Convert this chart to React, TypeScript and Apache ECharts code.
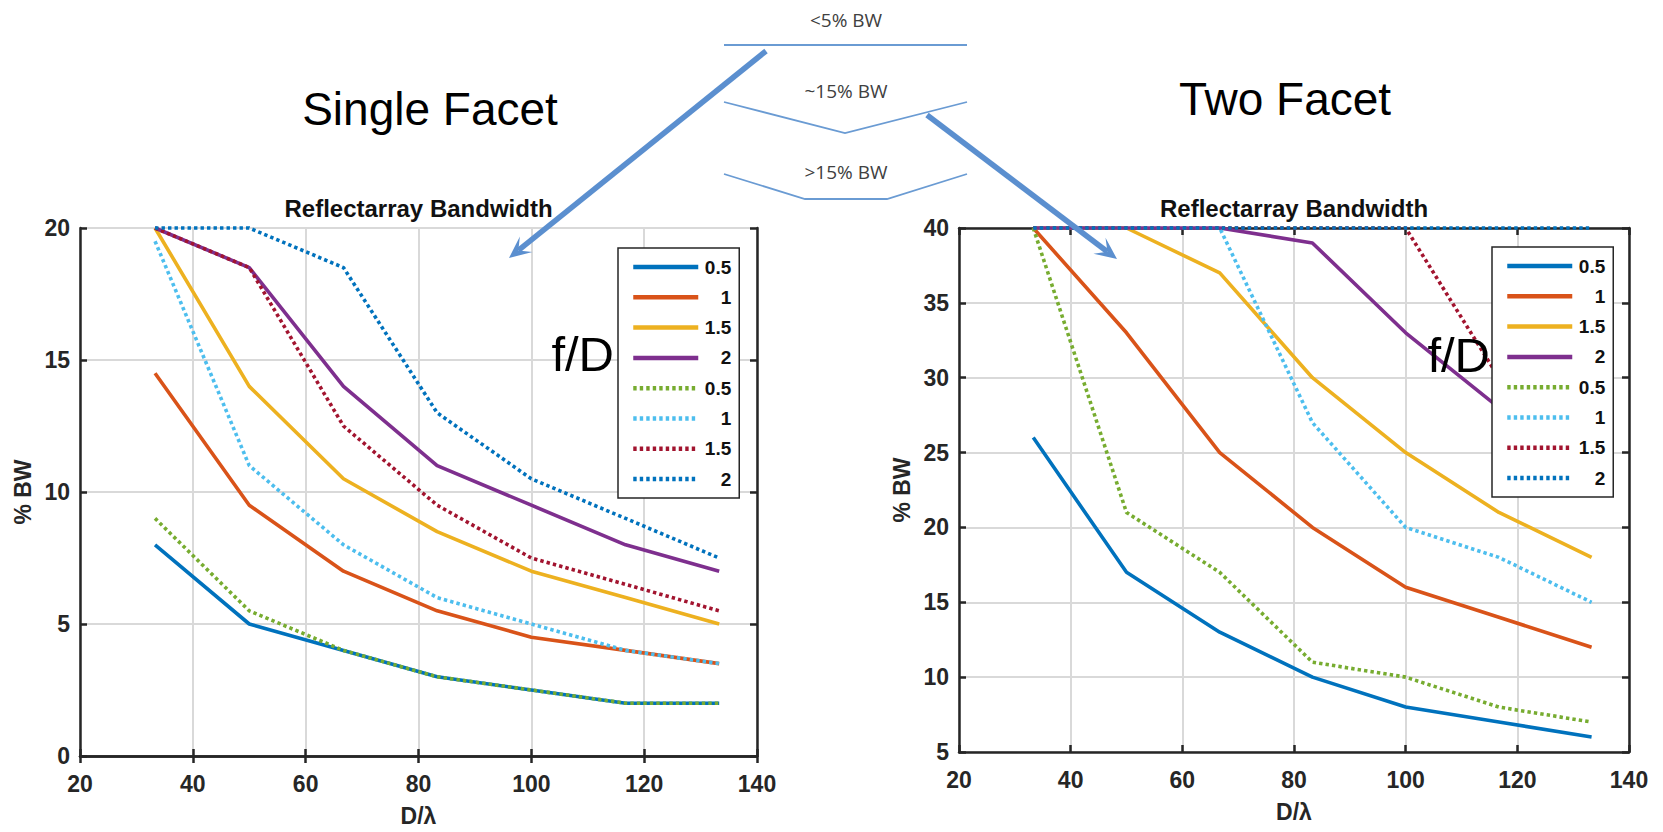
import React, { useEffect, useRef } from "react";
import * as echarts from "echarts";

// ---------- data ----------
const dLambda = [33.3, 50, 66.7, 83.3, 100, 116.7, 133.3];
const fdLabels = ["0.5", "1", "1.5", "2"];

// Single facet (% BW)
const singleSolid05 = [8, 5, 4, 3, 2.5, 2, 2];
const singleSolid1 = [14.5, 9.5, 7, 5.5, 4.5, 4, 3.5];
const singleSolid15 = [20, 14, 10.5, 8.5, 7, 6, 5];
const singleSolid2 = [20, 18.5, 14, 11, 9.5, 8, 7];
const singleDot05 = [9, 5.5, 4, 3, 2.5, 2, 2];
const singleDot1 = [19.5, 11, 8, 6, 5, 4, 3.5];
const singleDot15 = [20, 18.5, 12.5, 9.5, 7.5, 6.5, 5.5];
const singleDot2 = [20, 20, 18.5, 13, 10.5, 9, 7.5];

// Two facet (% BW)
const twoSolid05 = [26, 17, 13, 10, 8, 7, 6];
const twoSolid1 = [40, 33, 25, 20, 16, 14, 12];
const twoSolid15 = [40, 40, 37, 30, 25, 21, 18];
const twoSolid2 = [40, 40, 40, 39, 33, 28, 24];
const twoDot05 = [40, 21, 17, 11, 10, 8, 7];
const twoDot1 = [40, 40, 40, 27, 20, 18, 15];
const twoDot15 = [40, 40, 40, 40, 40, 30, 24];
const twoDot2 = [40, 40, 40, 40, 40, 40, 40];

const xTicks = { min: 20, max: 140, interval: 20 };
const singleY = { min: 0, max: 20, interval: 5 };
const twoY = { min: 5, max: 40, interval: 5 };

const chartTitle = "Reflectarray Bandwidth";
const xName = "D/λ";
const yName = "% BW";
const bwLabels = ["<5% BW", "~15% BW", ">15% BW"];

// ---------- styling ----------
const FONT = '"Liberation Sans", Arial, Helvetica, sans-serif';
const solidColors = ["#0072BD", "#D95319", "#EDB120", "#7E2F8E"];
const dotColors = ["#77AC30", "#4DBEEE", "#A2142F", "#0072BD"];
const AXIS = "#262626";

function arrow(x1: number, y1: number, x2: number, y2: number, color: string) {
  const dx = x2 - x1;
  const dy = y2 - y1;
  const len = Math.sqrt(dx * dx + dy * dy);
  const ux = dx / len;
  const uy = dy / len;
  const nx = -uy;
  const ny = ux;
  const back = 22;
  const half = 10;
  const notch = 12;
  const bx = x2 - ux * back;
  const by = y2 - uy * back;
  const mx = x2 - ux * notch;
  const my = y2 - uy * notch;
  return [
    {
      type: "line",
      z: 100,
      shape: { x1, y1, x2: mx, y2: my },
      style: { stroke: color, lineWidth: 5.5 },
    },
    {
      type: "polygon",
      z: 100,
      shape: {
        points: [
          [x2, y2],
          [bx + nx * half, by + ny * half],
          [mx, my],
          [bx - nx * half, by - ny * half],
        ],
      },
      style: { fill: color },
    },
  ];
}

function axesFor(grid: number, y: { min: number; max: number; interval: number }) {
  const line = { show: true, lineStyle: { color: AXIS, width: 2.5 } };
  const tick = { show: true, inside: true, length: 7, lineStyle: { color: AXIS, width: 2.5 } };
  const label = { fontSize: 23, fontWeight: "bold", color: AXIS, fontFamily: FONT };
  const split = { show: true, lineStyle: { color: "#d9d9d9", width: 2 } };
  const nameStyle = { fontSize: 23, fontWeight: "bold", color: AXIS, fontFamily: FONT };
  const xs = [
    {
      gridIndex: grid,
      type: "value",
      position: "bottom",
      ...xTicks,
      axisLine: line,
      axisTick: tick,
      axisLabel: { ...label, margin: 16 },
      splitLine: split,
      name: xName,
      nameLocation: "middle",
      nameGap: 48,
      nameTextStyle: nameStyle,
    },
    {
      gridIndex: grid,
      type: "value",
      position: "top",
      ...xTicks,
      axisLine: line,
      axisTick: tick,
      axisLabel: { show: false },
      splitLine: { show: false },
    },
  ];
  const ys = [
    {
      gridIndex: grid,
      type: "value",
      position: "left",
      ...y,
      axisLine: line,
      axisTick: tick,
      axisLabel: { ...label, margin: 10 },
      splitLine: split,
      name: yName,
      nameLocation: "middle",
      nameGap: 46,
      nameTextStyle: nameStyle,
    },
    {
      gridIndex: grid,
      type: "value",
      position: "right",
      ...y,
      axisLine: line,
      axisTick: tick,
      axisLabel: { show: false },
      splitLine: { show: false },
    },
  ];
  return { xs, ys };
}

function seriesFor(prefix: string, axisIdx: number, solids: number[][], dots: number[][]) {
  const out: any[] = [];
  solids.forEach((arr, i) => {
    out.push({
      name: `${prefix}-s-${fdLabels[i]}`,
      type: "line",
      xAxisIndex: axisIdx,
      yAxisIndex: axisIdx,
      data: dLambda.map((x, k) => [x, arr[k]]),
      symbol: "none",
      showSymbol: false,
      clip: false,
      lineStyle: { color: solidColors[i], width: 3.6 },
      itemStyle: { color: solidColors[i] },
    });
  });
  dots.forEach((arr, i) => {
    out.push({
      name: `${prefix}-d-${fdLabels[i]}`,
      type: "line",
      xAxisIndex: axisIdx,
      yAxisIndex: axisIdx,
      data: dLambda.map((x, k) => [x, arr[k]]),
      symbol: "none",
      showSymbol: false,
      clip: false,
      lineStyle: { color: dotColors[i], width: 3.6, type: [3.4, 3.1], cap: "butt" },
      itemStyle: { color: dotColors[i] },
    });
  });
  return out;
}

function legendFor(prefix: string, left: number, top: number) {
  const names = [
    ...fdLabels.map((l) => `${prefix}-s-${l}`),
    ...fdLabels.map((l) => `${prefix}-d-${l}`),
  ];
  return {
    orient: "vertical",
    left,
    top,
    data: names,
    selectedMode: false,
    itemWidth: 65,
    itemHeight: 12,
    itemGap: 10.3,
    padding: [9, 8, 9, 13],
    backgroundColor: "#ffffff",
    borderColor: AXIS,
    borderWidth: 1.5,
    borderRadius: 0,
    itemStyle: { opacity: 0 },
    lineStyle: { width: 4.5 },
    formatter: (n: string) => `{t|${n.split("-")[2]}}`,
    textStyle: {
      lineHeight: 20,
      rich: {
        t: {
          width: 28,
          align: "right",
          fontSize: 19,
          fontWeight: "bold",
          color: "#111",
          fontFamily: FONT,
          lineHeight: 20,
        },
      },
    },
  };
}

export default function App() {
  const ref = useRef<HTMLDivElement>(null);
  useEffect(() => {
    document.body.style.margin = "0";
    if (!ref.current) return;
    const chart = echarts.init(ref.current, undefined, { renderer: "svg" });
    const left = axesFor(0, singleY);
    const right = axesFor(1, twoY);
    const arrowColor = "#5b8fcf";
    const diag = "#6a9bd3";
    const titleStyle = {
      text: chartTitle,
      fontSize: 24,
      fontWeight: "bold",
      fontFamily: FONT,
      fill: "#111",
      textAlign: "center",
      textVerticalAlign: "middle",
    };
    const fdStyle = {
      text: "f/D",
      fontSize: 49,
      fontFamily: FONT,
      fill: "#000",
      textAlign: "right",
      textVerticalAlign: "middle",
    };
    const option: any = {
      animation: false,
      backgroundColor: "#ffffff",
      grid: [
        { left: 80, top: 228, width: 677, height: 530 },
        { left: 959, top: 228, width: 670, height: 524 },
      ],
      xAxis: [...left.xs, ...right.xs],
      yAxis: [...left.ys, ...right.ys],
      legend: [legendFor("L", 618, 248), legendFor("R", 1492, 247)],
      series: [
        ...seriesFor(
          "L",
          0,
          [singleSolid05, singleSolid1, singleSolid15, singleSolid2],
          [singleDot05, singleDot1, singleDot15, singleDot2]
        ),
        ...seriesFor(
          "R",
          2,
          [twoSolid05, twoSolid1, twoSolid15, twoSolid2],
          [twoDot05, twoDot1, twoDot15, twoDot2]
        ),
      ],
      graphic: [
        { type: "text", z: 50, x: 418.5, y: 208, style: titleStyle },
        { type: "text", z: 50, x: 1294, y: 208, style: titleStyle },
        { type: "text", z: 50, x: 614, y: 354, style: fdStyle },
        { type: "text", z: 50, x: 1490, y: 355, style: fdStyle },
        {
          type: "text",
          z: 50,
          x: 430,
          y: 109,
          style: {
            text: "Single Facet",
            fontSize: 46,
            fontFamily: FONT,
            fill: "#000",
            textAlign: "center",
            textVerticalAlign: "middle",
          },
        },
        {
          type: "text",
          z: 50,
          x: 1285,
          y: 99,
          style: {
            text: "Two Facet",
            fontSize: 46,
            fontFamily: FONT,
            fill: "#000",
            textAlign: "center",
            textVerticalAlign: "middle",
          },
        },
        ...bwLabels.map((t, i) => ({
          type: "text",
          z: 50,
          x: 846,
          y: [20, 91, 172][i],
          style: {
            text: t,
            fontSize: 19,
            fontFamily: '"Open Sans", "Liberation Sans", sans-serif',
            fill: "#404040",
            textAlign: "center",
            textVerticalAlign: "middle",
          },
        })),
        {
          type: "line",
          z: 50,
          shape: { x1: 724, y1: 45, x2: 967, y2: 45 },
          style: { stroke: diag, lineWidth: 1.8 },
        },
        {
          type: "polyline",
          z: 50,
          shape: { points: [[724, 102], [845, 133], [967, 102]] },
          style: { stroke: diag, lineWidth: 1.8, fill: null },
        },
        {
          type: "polyline",
          z: 50,
          shape: { points: [[724, 174], [805, 199], [887, 199], [967, 174]] },
          style: { stroke: diag, lineWidth: 1.8, fill: null },
        },
        ...arrow(766, 51, 509, 258, arrowColor),
        ...arrow(927, 115, 1117, 259, arrowColor),
      ],
    };
    chart.setOption(option);
    return () => chart.dispose();
  }, []);
  return <div ref={ref} style={{ width: 1663, height: 832 }} />;
}
